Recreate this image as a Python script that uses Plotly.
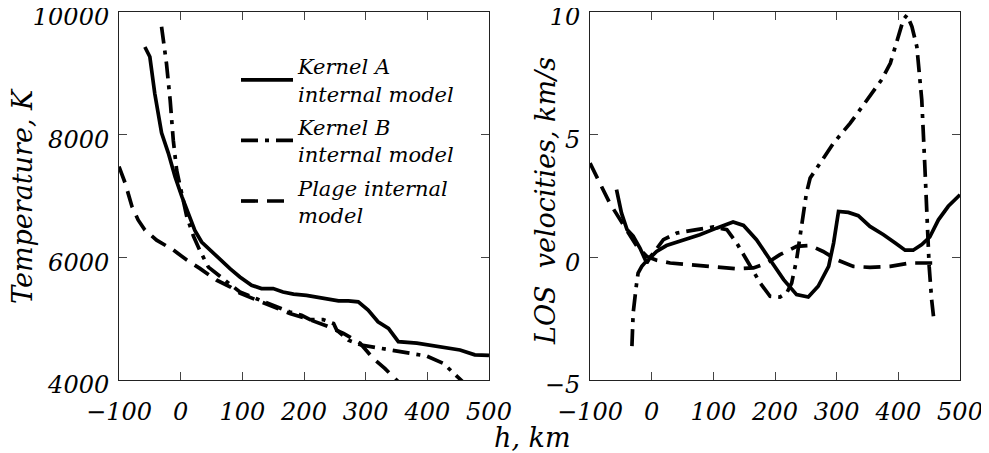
import plotly.graph_objects as go

# ---------------- data ----------------
# Temperature panel (h in km, T in K)
kA_T_h = [-58, -50, -42, -31, -20, -9, 2, 12, 23, 34, 48, 64, 80, 96, 115, 131, 150, 166, 183,
          204, 226, 248, 256, 272, 288, 304, 320, 337, 353, 383, 410, 453, 477, 500]
kA_T = [9430, 9270, 8670, 8030, 7700, 7310, 6990, 6720, 6440, 6250, 6115, 5950, 5815, 5680, 5545,
        5490, 5490, 5435, 5400, 5380, 5345, 5315, 5290, 5290, 5275, 5140, 4950, 4840, 4625, 4600,
        4560, 4490, 4410, 4400]

kB_T_h = [-31, -23, -17, -12, -6.5, 2, 10, 21, 31, 45, 61, 80, 96, 123, 150, 177, 196, 210, 231,
          248, 253, 272, 293, 328, 364, 399, 426, 450, 465]
kB_T = [9760, 9160, 8560, 7910, 7420, 6990, 6660, 6340, 6115, 5840, 5710, 5570, 5435, 5325, 5215,
        5110, 5055, 4985, 4985, 4920, 4815, 4650, 4570, 4515, 4460, 4390, 4270, 4055, 3900]

pl_T_h = [-100, -90, -79, -69, -58, -39, -12, 10, 31, 58, 80, 96, 123, 150, 177, 210, 237, 264,
          291, 312, 331, 350, 365]
pl_T = [7480, 7210, 6830, 6610, 6445, 6280, 6120, 5955, 5820, 5630, 5520, 5415, 5305, 5195, 5085,
        4980, 4880, 4760, 4600, 4355, 4190, 4000, 3850]

# LOS velocity panel (h in km, v in km/s)
kA_V_h = [-57, -49, -40, -30, -19, -8, -3, 8, 24, 51, 78, 105, 132, 149, 170, 192, 214, 235, 254,
          270, 287, 295, 303, 319, 335, 354, 376, 395, 411, 424, 438, 451, 465, 481, 500]
kA_V = [2.76, 1.81, 1.13, 0.86, 0.38, -0.23, -0.03, 0.24, 0.48, 0.69, 0.92, 1.19, 1.44, 1.30,
        0.72, -0.10, -0.91, -1.52, -1.62, -1.18, -0.37, 0.58, 1.87, 1.83, 1.70, 1.26, 0.92, 0.58,
        0.29, 0.29, 0.52, 0.83, 1.53, 2.08, 2.55]

kB_V_h = [-32, -30, -25, -22, -16, -8, 3, 19, 41, 73, 100, 122, 138, 157, 176, 192, 208, 219, 227,
          235, 243, 251, 257, 273, 295, 322, 349, 373, 387, 397, 408, 414, 422, 430, 438, 443,
          447, 450, 454, 457]
kB_V = [-3.62, -2.27, -1.18, -0.64, -0.37, -0.16, 0.18, 0.72, 0.99, 1.13, 1.24, 1.13, 0.58,
        -0.23, -1.05, -1.59, -1.62, -1.45, -1.05, -0.10, 1.26, 2.62, 3.23, 3.84, 4.66, 5.47,
        6.42, 7.24, 7.91, 8.73, 9.68, 9.88, 9.41, 8.59, 6.42, 3.71, 0.99, -0.37, -1.72, -2.40]

pl_V_h = [-100, -84, -68, -51, -35, -24, -8, 8, 30, 62, 105, 138, 165, 187, 208, 235, 257, 278,
          300, 327, 354, 387, 419, 441, 460]
pl_V = [3.84, 3.03, 2.21, 1.53, 0.86, 0.45, 0.04, -0.12, -0.23, -0.30, -0.37, -0.47, -0.43,
        -0.23, 0.11, 0.45, 0.48, 0.24, -0.10, -0.37, -0.41, -0.37, -0.23, -0.23, -0.23]

x_ticks = [-100, 0, 100, 200, 300, 400, 500]
T_ticks = [4000, 6000, 8000, 10000]
T_ticklabels = ["4000", "6000", "8000", "10000"]
V_ticks = [-5, 0, 5, 10]

names = ["Kernel A<br>internal model", "Kernel B<br>internal model", "Plage internal<br>model"]
dashes = ["solid", "17px,7px,4px,7px", "17px,9px"]

FONT = "DejaVu Serif"
LW = 3.7

W, H = 989, 453
OFF = 8  # page body margin of the html page


def fx(p):
    return (p - OFF) / W


def fy(p):
    return 1 - (p - OFF) / H


fig = go.Figure()

temp_sets = [(kA_T_h, kA_T), (kB_T_h, kB_T), (pl_T_h, pl_T)]
vel_sets = [(kA_V_h, kA_V), (kB_V_h, kB_V), (pl_V_h, pl_V)]

for i, (hx, ty) in enumerate(temp_sets):
    fig.add_trace(go.Scatter(x=hx, y=ty, mode="lines", name=names[i], legendgroup=str(i),
                             line=dict(color="black", width=LW, dash=dashes[i]),
                             xaxis="x", yaxis="y"))
for i, (hx, vy) in enumerate(vel_sets):
    fig.add_trace(go.Scatter(x=hx, y=vy, mode="lines", name=names[i], legendgroup=str(i),
                             showlegend=False,
                             line=dict(color="black", width=LW, dash=dashes[i]),
                             xaxis="x2", yaxis="y2"))

tickfont = dict(family=FONT, size=24, color="black", style="italic")
axis_common = dict(showline=True, linecolor="#222", linewidth=1, mirror="ticks",
                   ticks="inside", ticklen=8, tickcolor="#444", tickwidth=1,
                   showgrid=False, zeroline=False, tickfont=tickfont,
                   automargin=False, ticklabeloverflow="allow")

ydom = [fy(380), fy(12)]
title_font = dict(family=FONT, size=27, color="black", style="italic")
fig.update_layout(
    width=W, height=H,
    margin=dict(l=0, r=0, t=0, b=0),
    paper_bgcolor="white", plot_bgcolor="white",
    xaxis=dict(domain=[fx(119), fx(489)], range=[-100, 500], tickvals=x_ticks,
               ticklabelstandoff=10, anchor="y", **axis_common),
    yaxis=dict(domain=ydom, range=[4000, 10000], tickvals=T_ticks, ticktext=T_ticklabels,
               anchor="x", ticklabelstandoff=4, ticklabelshift=5, **axis_common),
    xaxis2=dict(domain=[fx(590), fx(960)], range=[-100, 500], tickvals=x_ticks,
                ticklabelstandoff=10, anchor="y2", **axis_common),
    yaxis2=dict(domain=ydom, range=[-5, 10], tickvals=V_ticks, anchor="x2",
                ticklabelstandoff=4, ticklabelshift=5, **axis_common),
    showlegend=True,
    legend=dict(x=fx(236), y=fy(46), xanchor="left", yanchor="top",
                bgcolor="rgba(0,0,0,0)", borderwidth=0, itemwidth=52,
                tracegroupgap=3,
                font=dict(family=FONT, size=21, color="black", style="italic")),
    annotations=[
        dict(text="Temperature, K", xref="paper", yref="paper", x=fx(22), y=fy(196),
             textangle=-90, showarrow=False, xanchor="center", yanchor="middle",
             font=title_font),
        dict(text="LOS\u00a0\u00a0velocities, km/s", xref="paper", yref="paper",
             x=fx(546), y=fy(201), textangle=-90, showarrow=False,
             xanchor="center", yanchor="middle", font=title_font),
        dict(text="h, km", xref="paper", yref="paper", x=fx(532), y=fy(437),
             showarrow=False, xanchor="center", yanchor="middle", font=title_font),
    ],
)

fig.write_html("out.html")
